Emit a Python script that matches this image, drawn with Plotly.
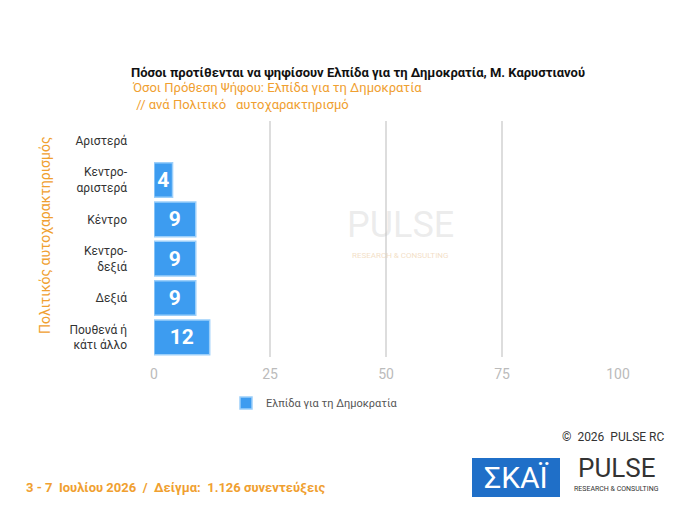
import plotly.graph_objects as go

categories = ["Αριστερά", "Κεντρο-<br>αριστερά", "Κέντρο", "Κεντρο-<br>δεξιά", "Δεξιά", "Πουθενά ή<br>κάτι άλλο"]
values = [None, 4, 9, 9, 9, 12]
labels = ["<b></b>", "<b>4</b>", "<b>9</b>", "<b>9</b>", "<b>9</b>", "<b>12</b>"]
ticks = [0, 25, 50, 75, 100]

W, H = 680, 510
L, R, T, B = 146, 70, 113, 161
PW, PH = W - L - R, H - T - B
OFF = 8
def px(p):
    return (p - OFF - L) / PW
def py(p):
    return (H - B - (p - OFF)) / PH

fig = go.Figure()
fig.add_trace(go.Bar(
    y=categories, x=values, orientation="h", name="Ελπίδα για τη Δημοκρατία",
    marker=dict(color="#3d9cf0", line=dict(color="#9ccffa", width=1.5)),
    text=labels, textposition="inside", insidetextanchor="middle",
    textfont=dict(color="white", size=21, family="Roboto"), width=0.88,
))
fig.update_layout(
    width=W, height=H, margin=dict(l=L, r=R, t=T, b=B, autoexpand=False),
    paper_bgcolor="white", plot_bgcolor="white",
    font=dict(family="Roboto", color="#333"),
    showlegend=True,
    legend=dict(orientation="h", x=px(226), y=py(403),
                xanchor="left", yanchor="middle", font=dict(size=11, color="#555")),
    xaxis=dict(range=[0, 100], tickvals=ticks, showgrid=True, gridcolor="#ddd", gridwidth=2,
               zeroline=False, tickfont=dict(color="#bbb", size=14), automargin=False,
               ticks="outside", ticklen=4, tickcolor="rgba(0,0,0,0)"),
    yaxis=dict(autorange="reversed", tickfont=dict(size=12, color="#333"),
               ticklabelstandoff=26, automargin=False),
    bargap=0.1,
)
A = dict(xref="paper", yref="paper", showarrow=False, yanchor="middle")
def ann(x, y, text, font, xanchor="center", **kw):
    fig.add_annotation(**A, x=px(x), y=py(y), text=text, font=font, xanchor=xanchor, **kw)

ann(45, 235, "Πολιτικός αυτοχαρακτηρισμός", dict(color="#f0a030", size=14), textangle=-90)
ann(129, 72, "<b>Πόσοι προτίθενται να ψηφίσουν Ελπίδα για τη Δημοκρατία, Μ. Καρυστιανού</b>",
    dict(size=13, color="#111"), xanchor="left")
ann(130, 96, "Όσοι Πρόθεση Ψήφου: Ελπίδα για τη Δημοκρατία<br> // ανά Πολιτικό   αυτοχαρακτηρισμό",
    dict(size=13, color="#f0a030"), xanchor="left", align="left")
ann(400, 225, "PULSE", dict(size=36, color="rgba(200,200,200,0.35)"))
ann(400, 255, "RESEARCH & CONSULTING", dict(size=8, color="rgba(230,190,140,0.5)"))
ann(666, 437, "©  2026  PULSE RC", dict(size=12, color="#333"), xanchor="right")
ann(24, 488, "<b>3 - 7  Ιουλίου 2026  /  Δείγμα:  1.126 συνεντεύξεις</b>",
    dict(size=13, color="#f0a030"), xanchor="left")
fig.add_shape(type="rect", xref="paper", yref="paper",
              x0=px(472), x1=px(560), y0=py(497), y1=py(458),
              fillcolor="#1f6fc8", line_width=0)
ann(516, 477, "ΣΚΑΪ", dict(size=30, color="white"))
ann(616, 468, "PULSE", dict(size=26, color="#333"))
ann(616, 489, "RESEARCH & CONSULTING", dict(size=7, color="#333"))
fig.write_html("out.html")
